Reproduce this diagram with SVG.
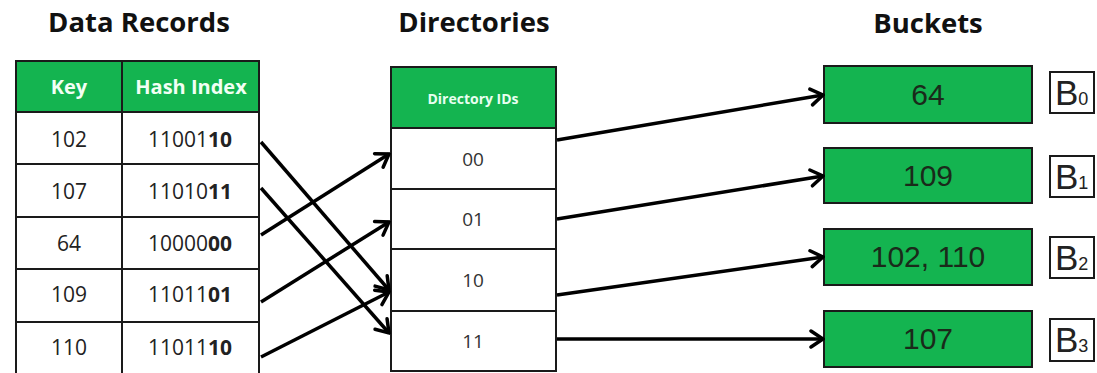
<svg xmlns="http://www.w3.org/2000/svg" width="1097" height="373" viewBox="0 0 1097 373">
<style>
.title{font-family:"Open Sans","Liberation Sans",sans-serif;font-weight:bold;font-size:27.5px;fill:#111;text-anchor:middle}
.hdr{font-family:"Open Sans","Liberation Sans",sans-serif;font-weight:bold;font-size:20px;fill:#f2fff4;text-anchor:middle}
.hdrs{font-family:"Open Sans","Liberation Sans",sans-serif;font-weight:bold;font-size:14px;fill:#e8fff0;text-anchor:middle}
.cell{font-family:"Open Sans","Liberation Sans",sans-serif;font-size:21px;fill:#222;text-anchor:middle}
.dir{font-family:"Open Sans","Liberation Sans",sans-serif;font-size:19px;fill:#333;text-anchor:middle}
.bk{font-family:"Liberation Sans",Arial,sans-serif;font-size:30px;fill:#1a2a1a;text-anchor:middle}
.bl{font-family:"Liberation Sans",Arial,sans-serif;font-size:35px;fill:#222}
.g{fill:#14b450;stroke:#1a1a1a;stroke-width:2}
.w{fill:#fff;stroke:#1a1a1a;stroke-width:2}
.conn line{stroke:#000;stroke-width:3.5;marker-end:url(#ah)}
</style>
<defs>
<marker id="ah" markerUnits="userSpaceOnUse" viewBox="-16 -11 18 22" markerWidth="18" markerHeight="22" refX="0" refY="0" orient="auto">
<path d="M-12,-8 L0,0 L-12,8" fill="none" stroke="#000" stroke-width="3.5" stroke-linecap="round" stroke-linejoin="miter"/>
</marker>
</defs>
<rect width="1097" height="373" fill="#fff"/>

<text class="title" x="139" y="32">Data Records</text>
<text class="title" x="474" y="32">Directories</text>
<text class="title" x="928" y="33">Buckets</text>

<g id="data-records">
<rect class="g" x="16" y="61" width="106" height="51"/>
<rect class="g" x="122" y="61" width="137" height="51"/>
<text class="hdr" x="69" y="94">Key</text>
<text class="hdr" x="191" y="94">Hash Index</text>
<rect class="w" x="16" y="112" width="106" height="52"/>
<rect class="w" x="122" y="112" width="137" height="52"/>
<rect class="w" x="16" y="164" width="106" height="53"/>
<rect class="w" x="122" y="164" width="137" height="53"/>
<rect class="w" x="16" y="217" width="106" height="52"/>
<rect class="w" x="122" y="217" width="137" height="52"/>
<rect class="w" x="16" y="269" width="106" height="53"/>
<rect class="w" x="122" y="269" width="137" height="53"/>
<rect class="w" x="16" y="322" width="106" height="56"/>
<rect class="w" x="122" y="322" width="137" height="56"/>
<text class="cell" x="69" y="147">102</text>
<text class="cell" x="190" y="147">11001<tspan font-weight="bold">10</tspan></text>
<text class="cell" x="69" y="199">107</text>
<text class="cell" x="190" y="199">11010<tspan font-weight="bold">11</tspan></text>
<text class="cell" x="69" y="251">64</text>
<text class="cell" x="190" y="251">10000<tspan font-weight="bold">00</tspan></text>
<text class="cell" x="69" y="302">109</text>
<text class="cell" x="190" y="302">11011<tspan font-weight="bold">01</tspan></text>
<text class="cell" x="69" y="355">110</text>
<text class="cell" x="190" y="355">11011<tspan font-weight="bold">10</tspan></text>
</g>

<g id="directories">
<rect class="g" x="391" y="67" width="165" height="61"/>
<text class="hdrs" x="473" y="104">Directory IDs</text>
<rect class="w" x="391" y="128" width="165" height="61"/>
<rect class="w" x="391" y="189" width="165" height="60"/>
<rect class="w" x="391" y="249" width="165" height="62"/>
<rect class="w" x="391" y="311" width="165" height="60"/>
<text class="dir" x="473" y="166">00</text>
<text class="dir" x="473" y="226">01</text>
<text class="dir" x="473" y="287">10</text>
<text class="dir" x="473" y="348">11</text>
</g>

<g id="bucket-b0">
<rect class="g" x="824" y="66" width="208" height="57"/>
<text class="bk" x="928" y="105">64</text>
<rect class="w" x="1050" y="72" width="44" height="41" stroke-width="1.5"/>
<text class="bl" x="1055" y="105">B<tspan font-size="18">0</tspan></text>
</g>
<g id="bucket-b1">
<rect class="g" x="824" y="148" width="208" height="55"/>
<text class="bk" x="928" y="186">109</text>
<rect class="w" x="1050" y="156" width="44" height="41" stroke-width="1.5"/>
<text class="bl" x="1055" y="189">B<tspan font-size="18">1</tspan></text>
</g>
<g id="bucket-b2">
<rect class="g" x="824" y="229" width="208" height="56"/>
<text class="bk" x="928" y="267">102, 110</text>
<rect class="w" x="1050" y="237" width="44" height="41" stroke-width="1.5"/>
<text class="bl" x="1055" y="270">B<tspan font-size="18">2</tspan></text>
</g>
<g id="bucket-b3">
<rect class="g" x="824" y="311" width="208" height="56"/>
<text class="bk" x="928" y="349">107</text>
<rect class="w" x="1050" y="319" width="44" height="42" stroke-width="1.5"/>
<text class="bl" x="1055" y="352">B<tspan font-size="18">3</tspan></text>
</g>

<g id="connectors" class="conn">
<line x1="261" y1="142" x2="389" y2="290"/>
<line x1="261" y1="188" x2="389" y2="333"/>
<line x1="261" y1="235" x2="389" y2="154"/>
<line x1="261" y1="302" x2="389" y2="222"/>
<line x1="261" y1="357" x2="389" y2="292"/>
<line x1="557" y1="140" x2="823" y2="95"/>
<line x1="557" y1="219" x2="823" y2="176"/>
<line x1="557" y1="295" x2="823" y2="257"/>
<line x1="557" y1="339" x2="823" y2="339"/>
</g>
</svg>
